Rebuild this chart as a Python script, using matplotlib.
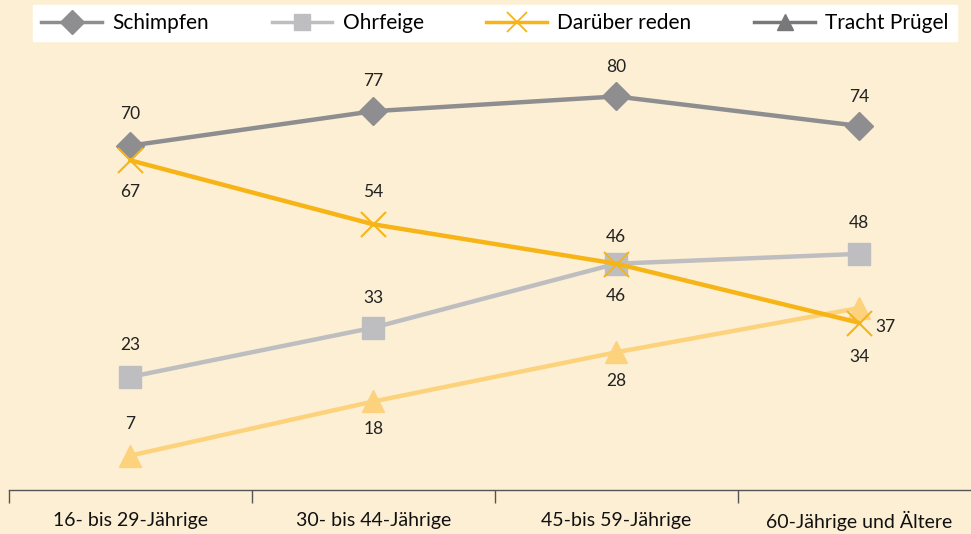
import matplotlib.pyplot as plt
from matplotlib.lines import Line2D

plt.rcParams['font.family'] = ['Lato', 'DejaVu Sans']

groups = ['16- bis 29-Jährige', '30- bis 44-Jährige', '45-bis 59-Jährige', '60-Jährige und Ältere']
schimpfen = [70, 77, 80, 74]
ohrfeige = [23, 33, 46, 48]
reden = [67, 54, 46, 34]
pruegel = [7, 18, 28, 37]

bg = '#fdefd4'
c_schimpfen = '#8e8e90'
c_ohrfeige = '#bebec0'
c_reden = '#f7b417'
c_pruegel = '#fdd27c'
c_legend_pruegel = '#78787a'

fig = plt.figure(figsize=(9.71, 5.34), dpi=100, facecolor=bg)
ax = fig.add_axes([9 / 971, 44 / 534, 962 / 971, 490 / 534])
ax.set_facecolor(bg)

x = range(len(groups))
ax.plot(x, schimpfen, color=c_schimpfen, lw=3.2, marker='D', ms=14, zorder=3)
ax.plot(x, ohrfeige, color=c_ohrfeige, lw=3.2, marker='s', ms=16, zorder=3)
ax.plot(x, pruegel, color=c_pruegel, lw=3.2, marker='^', ms=16, zorder=3)
ax.plot(x, reden, color=c_reden, lw=3.2, marker='x', ms=18, mew=1.5, zorder=4)

fs = 12.5
# value labels: offsets in points (dx, dy)
def label(vals, offs):
    for i, (v, o) in enumerate(zip(vals, offs)):
        ax.annotate(str(v), (i, v), xytext=o, textcoords='offset points',
                    ha='center', va='center', fontsize=fs, color='#222222', zorder=5)

label(schimpfen, [(0, 23), (0, 22), (0, 21), (0, 21)])
label(ohrfeige, [(0, 23), (0, 21), (0, 19), (0, 22)])
label(reden, [(0, -23), (0, 23), (0, -23), (0, -25)])
label(pruegel, [(0, 23), (0, -20), (0, -21), (19, -14)])

ax.set_xlim(-0.5, 3.46)
ax.set_ylim(0, 99.6)
for s in ['top', 'left', 'right']:
    ax.spines[s].set_visible(False)
ax.spines['bottom'].set_color('#555555')
ax.spines['bottom'].set_linewidth(1)
ax.set_yticks([])
ax.set_xticks([-0.5, 0.5, 1.5, 2.5])
ax.set_xticklabels([])
ax.tick_params(axis='x', which='major', length=9, color='#555555', width=1)

# category labels
for i, g in enumerate(groups):
    ax.text(i, -6.3, g, ha='center', va='center', fontsize=14, color='#111111')

handles = [
    Line2D([], [], color=c_schimpfen, lw=2.5, marker='D', ms=12),
    Line2D([], [], color=c_ohrfeige, lw=2.5, marker='s', ms=12),
    Line2D([], [], color=c_reden, lw=2.5, marker='x', ms=14, mew=1.3),
    Line2D([], [], color=c_legend_pruegel, lw=2.5, marker='^', ms=12),
]
leg = fig.legend(handles, ['Schimpfen', 'Ohrfeige', 'Darüber reden', 'Tracht Prügel'],
                 loc='upper left', bbox_to_anchor=(33 / 971, 1 - 10 / 534, 924 / 971, 0.01),
                 mode='expand', ncol=4, frameon=True, fancybox=False, fontsize=15,
                 handlelength=2.9, borderpad=0.4, columnspacing=2.0, handletextpad=0.5,
                 borderaxespad=0)
leg.get_frame().set_facecolor('white')
leg.get_frame().set_edgecolor('white')
leg.get_frame().set_alpha(1)

fig.savefig('out.png', dpi=100, facecolor=bg)
